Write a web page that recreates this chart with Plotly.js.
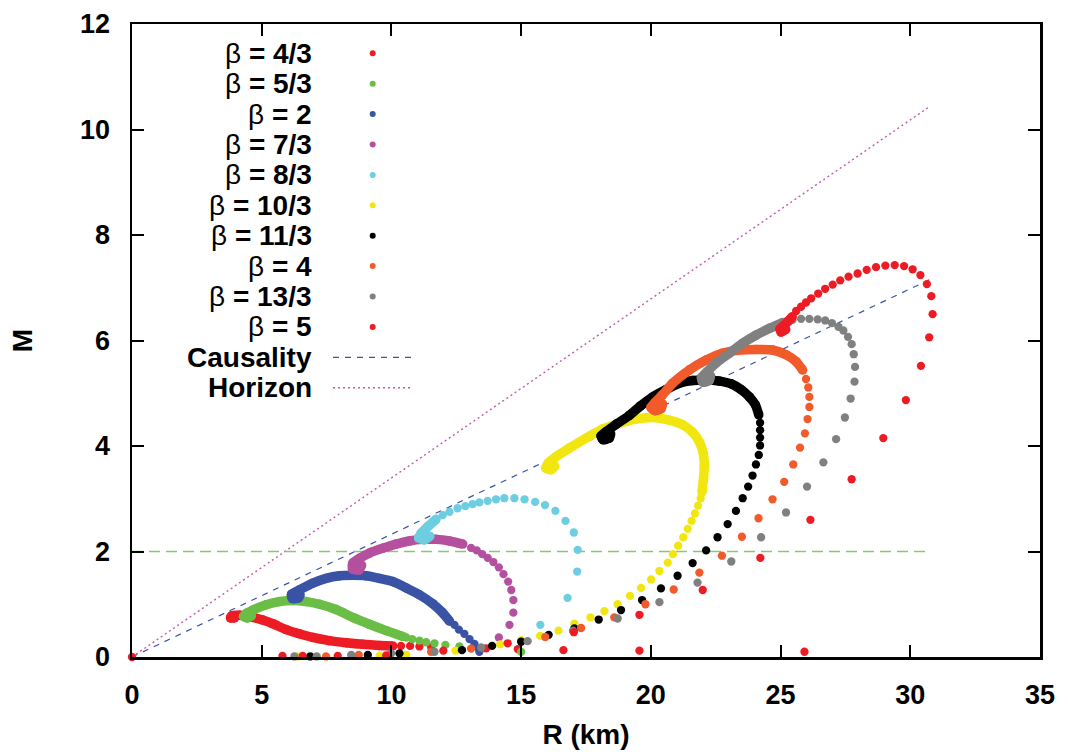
<!DOCTYPE html>
<html>
<head>
<meta charset="utf-8">
<script src="https://cdn.plot.ly/plotly-3.0.1.min.js"></script>
<style>html,body{margin:0;padding:0;background:#fff;}#chart{width:1070px;height:752px;}</style>
</head>
<body>
<div id="chart"></div>
<script>
// ---------- data (R in km, M) ----------
// beta = 4/3
const b43_R = [25.92, 19.56, 16.63, 14.87, 13.65, 11.53, 11.08, 10.72, 10.37];
const b43_M = [0.10, 0.12, 0.13, 0.15, 0.165, 0.19, 0.20, 0.21, 0.21];
const b43_bandR = [10.05, 9.54, 8.89, 8.25, 7.61, 6.97, 6.45, 5.94, 5.43, 5.04, 4.66, 4.14, 3.84, 3.80, 3.95];
const b43_bandM = [0.21, 0.22, 0.24, 0.27, 0.31, 0.37, 0.44, 0.52, 0.63, 0.70, 0.75, 0.79, 0.78, 0.74, 0.74];
// beta = 5/3
const b53_R = [15.0, 12.62, 12.08, 11.66, 11.34, 11.08, 10.80, 10.57];
const b53_M = [0.10, 0.20, 0.23, 0.26, 0.28, 0.31, 0.34, 0.37];
const b53_bandR = [10.44, 9.80, 9.15, 8.51, 7.87, 7.23, 6.71, 6.20, 5.68, 5.17, 4.66, 4.42, 4.30, 4.45, 4.60];
const b53_bandM = [0.39, 0.50, 0.62, 0.75, 0.90, 1.00, 1.05, 1.07, 1.05, 0.99, 0.89, 0.83, 0.77, 0.74, 0.78];
// beta = 2
const b2_R = [13.39, 13.36, 13.20, 13.01, 12.81, 12.60, 12.43];
const b2_M = [0.10, 0.16, 0.25, 0.34, 0.44, 0.52, 0.61];
const b2_bandR = [12.24, 11.95, 11.59, 11.08, 10.57, 10.05, 9.54, 9.02, 8.51, 8.00, 7.48, 6.97, 6.45, 6.15, 6.18, 6.42, 6.48];
const b2_bandM = [0.68, 0.85, 1.01, 1.18, 1.31, 1.43, 1.49, 1.54, 1.55, 1.54, 1.49, 1.40, 1.27, 1.19, 1.11, 1.12, 1.18];
// beta = 7/3
const b73_R = [14.14, 14.55, 14.70, 14.70, 14.62, 14.50, 14.32, 14.14, 13.93, 13.71, 13.50, 13.29, 13.07];
const b73_M = [0.37, 0.61, 0.84, 1.08, 1.27, 1.43, 1.57, 1.70, 1.80, 1.88, 1.95, 2.02, 2.07];
const b73_bandR = [12.75, 12.24, 11.72, 11.21, 10.69, 10.18, 9.66, 9.15, 8.77, 8.51, 8.50, 8.75, 8.85];
const b73_bandM = [2.14, 2.20, 2.23, 2.23, 2.20, 2.14, 2.06, 1.97, 1.87, 1.78, 1.67, 1.65, 1.74];
// beta = 8/3
const b83_R = [15.74, 16.79, 17.16, 17.18, 17.03, 16.71, 16.32, 15.92, 15.54, 15.13, 14.74, 14.35, 14.03, 13.71, 13.39, 13.13, 12.85, 12.55, 12.24, 11.98];
const b83_M = [0.61, 1.12, 1.62, 2.03, 2.36, 2.58, 2.77, 2.88, 2.94, 2.99, 3.01, 3.01, 2.99, 2.96, 2.93, 2.90, 2.86, 2.82, 2.75, 2.69];
const b83_bandR = [11.72, 11.40, 11.14, 11.05, 11.27, 11.48];
const b83_bandM = [2.61, 2.47, 2.34, 2.26, 2.22, 2.29];
// beta = 10/3
const b103_R = [6.39, 9.54, 10.57, 12.47, 14.19, 15.0, 15.73, 16.44, 17.05, 17.67, 18.21, 18.72, 19.20, 19.62, 20.01, 20.33, 20.65, 20.85, 21.05, 21.25, 21.42, 21.57, 21.70, 21.82, 21.92];
const b103_M = [0.01, 0.02, 0.04, 0.12, 0.24, 0.32, 0.40, 0.50, 0.63, 0.75, 0.87, 1.00, 1.16, 1.31, 1.47, 1.63, 1.79, 1.95, 2.11, 2.27, 2.43, 2.58, 2.72, 2.87, 3.01];
const b103_bandR = [21.97, 22.03, 22.06, 22.02, 21.87, 21.61, 21.23, 20.71, 20.07, 19.43, 18.79, 18.14, 17.50, 16.86, 16.35, 16.05, 15.95, 16.15, 16.30];
const b103_bandM = [3.13, 3.39, 3.61, 3.86, 4.08, 4.26, 4.40, 4.49, 4.54, 4.51, 4.43, 4.32, 4.15, 3.96, 3.80, 3.68, 3.58, 3.55, 3.62];
// beta = 11/3
const b113_R = [6.87, 9.09, 10.31, 12.72, 13.88, 15.0, 16.06, 17.05, 17.99, 18.85, 19.66, 20.39, 21.03, 21.61, 22.13, 22.57, 22.96, 23.28, 23.54, 23.75, 23.92, 24.05, 24.16, 24.21, 24.21, 24.21, 24.21];
const b113_M = [0.01, 0.04, 0.07, 0.13, 0.21, 0.29, 0.42, 0.54, 0.71, 0.89, 1.08, 1.30, 1.54, 1.78, 2.02, 2.27, 2.52, 2.77, 3.01, 3.23, 3.44, 3.65, 3.83, 4.01, 4.16, 4.30, 4.44];
const b113_bandR = [24.16, 24.03, 23.80, 23.48, 23.09, 22.64, 22.13, 21.61, 21.10, 20.59, 20.07, 19.60, 19.17, 18.66, 18.30, 18.08, 18.15, 18.40, 18.45];
const b113_bandM = [4.59, 4.78, 4.93, 5.07, 5.18, 5.23, 5.25, 5.24, 5.19, 5.07, 4.93, 4.76, 4.58, 4.41, 4.28, 4.19, 4.12, 4.15, 4.23];
// beta = 4
const b4_R = [7.48, 8.74, 11.53, 13.07, 15.93, 17.31, 18.59, 19.79, 20.88, 21.87, 22.74, 23.51, 24.15, 24.69, 25.14, 25.49, 25.75, 25.94, 26.04, 26.11, 26.11, 26.07, 25.98];
const b4_M = [0.01, 0.04, 0.10, 0.16, 0.38, 0.55, 0.75, 1.00, 1.28, 1.60, 1.92, 2.28, 2.63, 2.99, 3.32, 3.65, 3.97, 4.24, 4.51, 4.74, 4.93, 5.11, 5.27];
const b4_bandR = [25.85, 25.60, 25.21, 24.69, 24.05, 23.41, 22.77, 22.13, 21.48, 20.84, 20.45, 20.15, 20.00, 20.15, 20.40, 20.45];
const b4_bandM = [5.44, 5.60, 5.73, 5.82, 5.83, 5.82, 5.76, 5.63, 5.44, 5.19, 4.97, 4.82, 4.73, 4.67, 4.71, 4.80];
// beta = 13/3
const b133_R = [6.26, 7.12, 8.45, 9.99, 11.66, 13.46, 15.25, 17.0, 18.72, 20.33, 21.80, 23.10, 24.25, 25.21, 26.02, 26.65, 27.14, 27.48, 27.70, 27.85, 27.87, 27.82, 27.74, 27.60, 27.42, 27.23, 26.98, 26.72, 26.43, 26.11, 25.79, 25.46];
const b133_M = [0.01, 0.01, 0.04, 0.07, 0.10, 0.18, 0.30, 0.50, 0.73, 1.04, 1.41, 1.81, 2.27, 2.74, 3.23, 3.69, 4.13, 4.54, 4.90, 5.22, 5.50, 5.74, 5.93, 6.07, 6.19, 6.26, 6.33, 6.38, 6.40, 6.41, 6.41, 6.39];
const b133_bandR = [25.08, 24.57, 24.05, 23.54, 23.03, 22.51, 22.15, 21.95, 22.00, 22.25, 22.30];
const b133_bandM = [6.34, 6.23, 6.10, 5.95, 5.76, 5.57, 5.40, 5.30, 5.21, 5.24, 5.33];
// beta = 5
const b5_R = [0.0, 5.80, 6.58, 7.93, 9.80, 12.0, 14.48, 17.03, 19.56, 22.0, 24.22, 26.15, 27.74, 28.96, 29.83, 30.41, 30.73, 30.86, 30.81, 30.64, 30.39, 30.09, 29.76, 29.40, 29.04, 28.68, 28.32, 27.97, 27.62, 27.30, 27.01, 26.72, 26.45, 26.18, 25.98, 25.79, 25.60];
const b5_M = [0.0, 0.02, 0.02, 0.02, 0.03, 0.12, 0.26, 0.47, 0.80, 1.27, 1.88, 2.60, 3.37, 4.15, 4.87, 5.52, 6.06, 6.50, 6.84, 7.07, 7.24, 7.35, 7.41, 7.43, 7.42, 7.39, 7.34, 7.27, 7.21, 7.14, 7.06, 6.98, 6.89, 6.80, 6.72, 6.64, 6.56];
const b5_bandR = [25.45, 25.30, 25.12, 24.98, 25.02, 25.20];
const b5_bandM = [6.45, 6.37, 6.28, 6.22, 6.16, 6.21];

// reference lines
const causality_R = [0, 30.73];
const causality_M = [0, 7.15];
const horizon_R = [0, 30.73];
const horizon_M = [0, 10.43];
const limit_R = [0, 30.8];
const limit_M = [2, 2];

const legendLabels = ["4/3", "5/3", "2", "7/3", "8/3", "10/3", "11/3", "4", "13/3", "5"];
const xTickVals = [0, 5, 10, 15, 20, 25, 30, 35];
const yTickVals = [0, 2, 4, 6, 8, 10, 12];

// ---------- styling ----------
const colors = ["#ed1c24", "#6abd45", "#3a53a4", "#b5509e", "#6dcde1", "#f2e611", "#000000", "#f15a2a", "#808080", "#ed1c24"];
const curves = [
  [b43_R, b43_M, b43_bandR, b43_bandM],
  [b53_R, b53_M, b53_bandR, b53_bandM],
  [b2_R, b2_M, b2_bandR, b2_bandM],
  [b73_R, b73_M, b73_bandR, b73_bandM],
  [b83_R, b83_M, b83_bandR, b83_bandM],
  [b103_R, b103_M, b103_bandR, b103_bandM],
  [b113_R, b113_M, b113_bandR, b113_bandM],
  [b4_R, b4_M, b4_bandR, b4_bandM],
  [b133_R, b133_M, b133_bandR, b133_bandM],
  [b5_R, b5_M, b5_bandR, b5_bandM]
];

const traces = [];
traces.push({x: horizon_R, y: horizon_M, mode: 'lines', line: {color: '#c45aa8', width: 1.4, dash: '2px,3px'}, hoverinfo: 'skip'});
traces.push({x: causality_R, y: causality_M, mode: 'lines', line: {color: '#3a53a4', width: 1.2, dash: '6px,6px'}, hoverinfo: 'skip'});
traces.push({x: limit_R, y: limit_M, mode: 'lines', line: {color: '#8cc86a', width: 1.3, dash: '11px,6px'}, hoverinfo: 'skip'});

curves.forEach((c, i) => {
  traces.push({x: c[2], y: c[3], mode: 'lines+markers', cliponaxis: false,
    line: {color: colors[i], width: 9.5, shape: 'spline', smoothing: 0.6},
    marker: {color: colors[i], size: 9.5}});
  traces.push({x: c[0], y: c[1], mode: 'markers', cliponaxis: false,
    marker: {color: colors[i], size: 8.3}});
});

// manual legend (text right-aligned, symbol on the right)
const FONT = 'Liberation Sans, Arial, Helvetica, sans-serif';
const W = 908, H = 633, L = 132;
const px2x = p => (p - L) / W;
const py2y = p => (657 - p) / H;
const rowY = i => py2y(53.3 + i * 30.4);
const annotations = [];
const shapes = [];
legendLabels.forEach((lab, i) => {
  annotations.push({xref: 'paper', yref: 'paper', x: px2x(314), y: rowY(i), xanchor: 'right', yanchor: 'middle',
    showarrow: false, text: 'β<b> = ' + lab + '</b>', font: {family: FONT, size: 28, color: '#000'}});
  shapes.push({type: 'circle', xref: 'paper', yref: 'paper', xsizemode: 'pixel', ysizemode: 'pixel',
    xanchor: px2x(372.7), yanchor: rowY(i), x0: -3, x1: 3, y0: -3, y1: 3,
    fillcolor: colors[i], line: {width: 0}});
});
annotations.push({xref: 'paper', yref: 'paper', x: px2x(314), y: rowY(10), xanchor: 'right', yanchor: 'middle',
  showarrow: false, text: '<b>Causality</b>', font: {family: FONT, size: 28, color: '#000'}});
annotations.push({xref: 'paper', yref: 'paper', x: px2x(314), y: rowY(11), xanchor: 'right', yanchor: 'middle',
  showarrow: false, text: '<b>Horizon</b>', font: {family: FONT, size: 28, color: '#000'}});
shapes.push({type: 'line', xref: 'paper', yref: 'paper', x0: px2x(333), x1: px2x(413), y0: rowY(10), y1: rowY(10),
  line: {color: '#3a53a4', width: 1.2, dash: '6px,6px'}});
shapes.push({type: 'line', xref: 'paper', yref: 'paper', x0: px2x(333), x1: px2x(413), y0: rowY(11), y1: rowY(11),
  line: {color: '#c45aa8', width: 1.4, dash: '2px,3px'}});

const axisCommon = {
  showgrid: false, zeroline: false, showline: true, mirror: 'ticks', linecolor: '#000', linewidth: 2.5,
  ticks: 'inside', ticklen: 12, tickwidth: 2, tickcolor: '#000',
  tickfont: {family: FONT, size: 27, color: '#000', weight: 700}
};

const layout = {
  width: 1070, height: 752,
  margin: {l: L, r: 1070 - L - W, t: 24, b: 95},
  paper_bgcolor: '#fff', plot_bgcolor: '#fff',
  showlegend: false,
  xaxis: Object.assign({}, axisCommon, {range: [0, 35], tickvals: xTickVals, ticklabelstandoff: 12,
    title: {text: 'R (km)', font: {family: FONT, size: 28, color: '#000', weight: 700}, standoff: 16}}),
  yaxis: Object.assign({}, axisCommon, {range: [0, 12], tickvals: yTickVals, ticklabelstandoff: 14,
    title: {text: 'M', font: {family: FONT, size: 28, color: '#000', weight: 700}, standoff: 40}}),
  annotations: annotations,
  shapes: shapes
};

Plotly.newPlot('chart', traces, layout, {displayModeBar: false, staticPlot: true});
</script>
</body>
</html>
